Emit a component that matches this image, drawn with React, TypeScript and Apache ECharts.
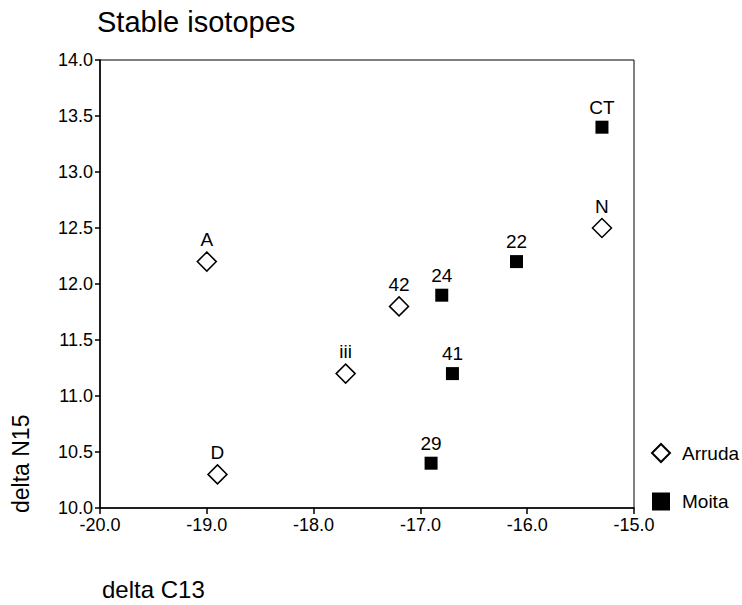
import React, { useEffect, useRef } from "react";
import * as echarts from "echarts";

const arrudaNames = ["A", "D", "iii", "42", "N"];
const arrudaC13 = [-19.0, -18.9, -17.7, -17.2, -15.3];
const arrudaN15 = [12.2, 10.3, 11.2, 11.8, 12.5];

const moitaNames = ["CT", "22", "24", "41", "29"];
const moitaC13 = [-15.3, -16.1, -16.8, -16.7, -16.9];
const moitaN15 = [13.4, 12.2, 11.9, 11.2, 10.4];

const FONT = "Arial, 'Liberation Sans', Helvetica, sans-serif";

export default function App() {
  const ref = useRef<HTMLDivElement>(null);
  useEffect(() => {
    const chart = echarts.init(ref.current!, null, { renderer: "svg" });
    const mk = (names: string[], xs: number[], ys: number[]) =>
      names.map((n, i) => ({ name: n, value: [xs[i], ys[i]] }));
    const label = (distance: number) => ({
      show: true,
      position: "top" as const,
      distance,
      formatter: (p: any) => p.name,
      color: "#000",
      fontSize: 19,
      fontFamily: FONT,
    });
    chart.setOption({
      animation: false,
      backgroundColor: "#fff",
      textStyle: { fontFamily: FONT },
      title: {
        text: "Stable isotopes",
        left: 92,
        top: 2,
        textStyle: { fontSize: 29, fontWeight: "normal", color: "#000", fontFamily: FONT },
      },
      grid: {
        left: 100,
        top: 60,
        right: 108,
        bottom: 97,
        show: true,
        borderColor: "#000",
        borderWidth: 1,
        backgroundColor: "transparent",
      },
      legend: {
        orient: "vertical",
        left: 651,
        top: 443,
        padding: 0,
        itemGap: 29,
        itemWidth: 18,
        itemHeight: 18,
        textStyle: { fontSize: 19, color: "#000", fontFamily: FONT, padding: [0, 0, 0, 7] },
        data: ["Arruda", "Moita"],
      },
      xAxis: {
        type: "value",
        min: -20,
        max: -15,
        interval: 1,
        axisLine: { show: true, onZero: false, lineStyle: { color: "#000", width: 1.5 } },
        axisTick: { show: true, length: 6, lineStyle: { color: "#000", width: 1.5 } },
        splitLine: { show: false },
        axisLabel: {
          color: "#000",
          fontSize: 18,
          fontFamily: FONT,
          margin: 8,
          formatter: (v: number) => v.toFixed(1),
        },
      },
      yAxis: {
        type: "value",
        min: 10,
        max: 14,
        interval: 0.5,
        axisLine: { show: true, onZero: false, lineStyle: { color: "#000", width: 1.5 } },
        axisTick: { show: true, length: 5, lineStyle: { color: "#000", width: 1.5 } },
        splitLine: { show: false },
        axisLabel: {
          color: "#000",
          fontSize: 18,
          fontFamily: FONT,
          margin: 7,
          formatter: (v: number) => v.toFixed(1),
        },
      },
      graphic: [
        {
          type: "text",
          left: 102,
          top: 577,
          style: { text: "delta C13", fontSize: 24, fill: "#000", fontFamily: FONT },
        },
        {
          type: "text",
          x: 9,
          y: 513,
          rotation: Math.PI / 2,
          style: { text: "delta N15", fontSize: 23, fill: "#000", fontFamily: FONT },
        },
      ],
      series: [
        {
          name: "Arruda",
          type: "scatter",
          symbol: "diamond",
          symbolSize: [19, 19],
          itemStyle: { color: "#fff", borderColor: "#000", borderWidth: 1.5, opacity: 1 },
          label: label(2),
          data: mk(arrudaNames, arrudaC13, arrudaN15),
        },
        {
          name: "Moita",
          type: "scatter",
          symbol: "rect",
          symbolSize: [13, 13],
          itemStyle: { color: "#000", opacity: 1 },
          label: label(4),
          data: mk(moitaNames, moitaC13, moitaN15),
        },
      ],
    });
    return () => chart.dispose();
  }, []);
  return <div ref={ref} style={{ width: 742, height: 605, position: "absolute", left: 0, top: 0 }} />;
}
